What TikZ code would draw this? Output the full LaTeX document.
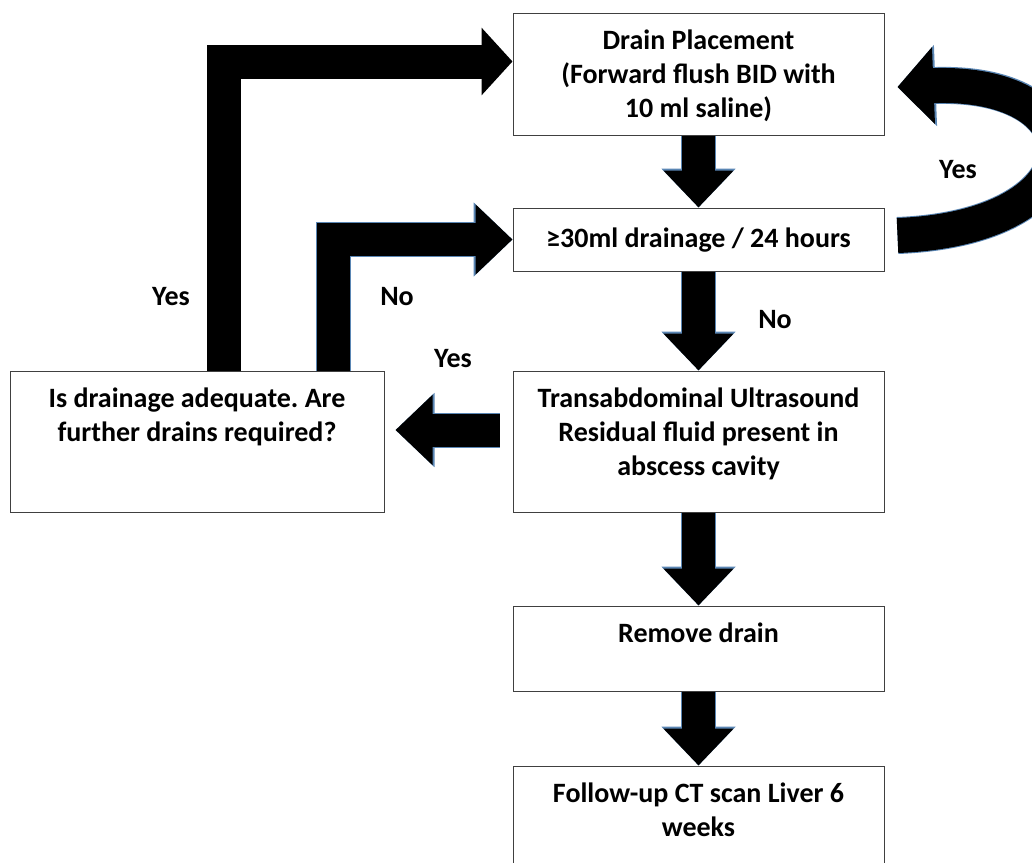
\documentclass[tikz,border=0pt]{standalone}
\usepackage{fontspec}
\setmainfont{Carlito}
\usepackage{xcolor}
\definecolor{Edge}{HTML}{404040}
\definecolor{Rim}{HTML}{5A86B4}
\usepackage{tikz}
\usetikzlibrary{arrows.meta,positioning}

\begin{document}
\frenchspacing
\begin{tikzpicture}[x=1pt,y=-1pt,node distance=72pt,
  every node/.style={font=\fontsize{28}{34}\selectfont\bfseries,align=flush center},
  box/.style={draw=Edge,line width=1pt,inner sep=0pt,text width=371pt,text height=36pt},
  flow/.style={line width=33pt,-{Triangle[length=37pt,width=68pt]},
    preaction={draw=Rim,line width=35pt,-{Triangle[length=39pt,width=72pt]}}},
  bigflow/.style={line width=34pt,-{Triangle[length=31pt,width=66pt]}},
  loopflow/.style={line width=35pt,-{Triangle[length=36pt,width=75pt]},
    preaction={draw=Rim,line width=37pt,-{Triangle[length=38pt,width=79pt]}}}]
\useasboundingbox (0,0) rectangle (1032,862);
% boxes
\node[box,text depth=86pt] (place) at (698.5,74) {Drain Placement\\(Forward flush BID with\\10 ml saline)};
\node[box,text height=39pt,text depth=24pt,below=of place] (drain) {≥30ml drainage / 24 hours};
\node[box,text depth=105pt,below=99pt of drain] (us) {Transabdominal Ultrasound\\Residual fluid present in\\abscess cavity};
\node[box,text width=374pt,text depth=105pt,left=128pt of us] (adequate) {Is drainage adequate. Are\\further drains required?};
\node[box,text depth=49pt,below=93pt of us] (remove) {Remove drain};
\node[box,text depth=72pt,below=74pt of remove] (ct) {Follow-up CT scan Liver 6\\weeks};
% arrows
\draw[flow] (place) -- (drain);
\draw[flow] (drain) -- (us);
\draw[flow] (us) -- (remove);
\draw[flow] (remove) -- (ct);
\draw[flow] ([xshift=-13pt,yshift=11.5pt]us.west) -- ([xshift=11pt,yshift=11.5pt]adequate.east);
\draw[bigflow] ([xshift=26.5pt]adequate.north) |- ([yshift=12.5pt]place.west);
\draw[flow] ([xshift=136pt]adequate.north) |- (drain.west);
\draw[loopflow] ([xshift=13pt,yshift=4pt]drain.east) .. controls +(205,-8) and +(205,-8) .. ([xshift=13pt,yshift=-13pt]place.east);
% labels
\node (yesloop) at (958,170) {Yes};
\node (yesleft) at (171,297) {Yes};
\node (noleft) at (397,297) {No};
\node (nodown) at (775,320) {No};
\node (yesside) at (453,359) {Yes};
\end{tikzpicture}
\end{document}
